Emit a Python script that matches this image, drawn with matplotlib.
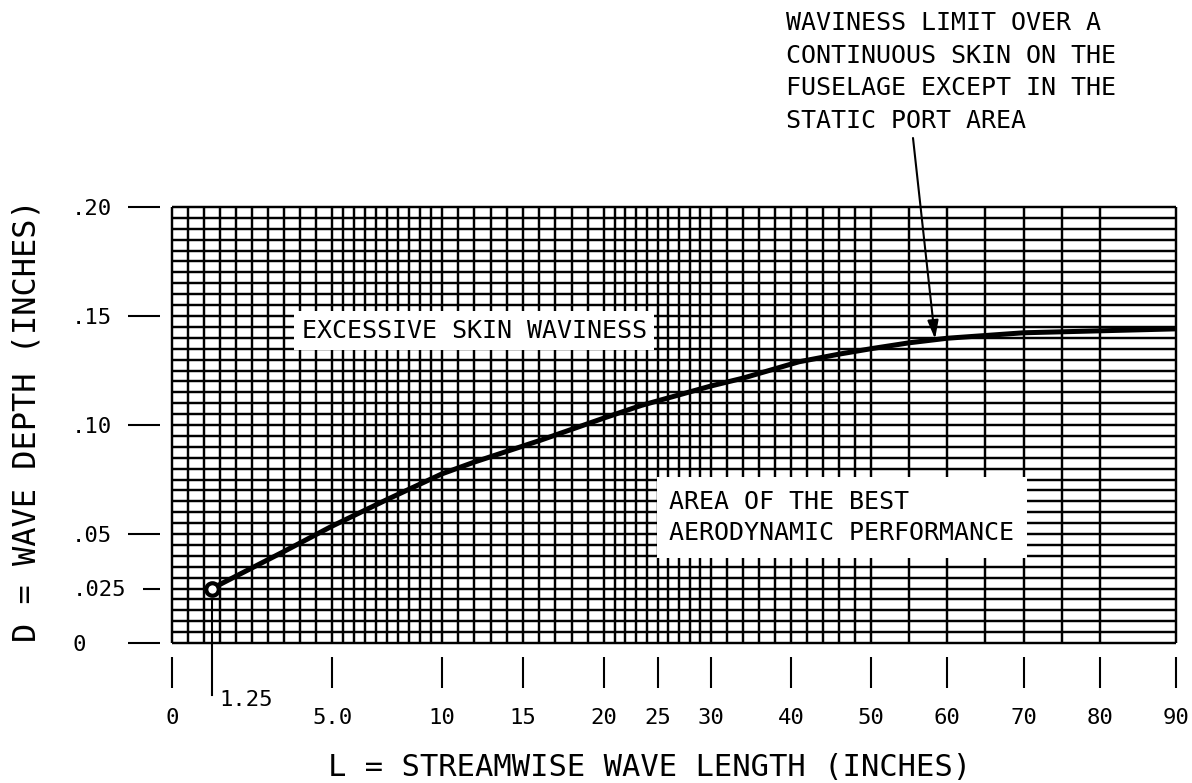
import numpy as np
import matplotlib
matplotlib.use("Agg")
import matplotlib.pyplot as plt

plt.rcParams['font.family'] = ['DejaVu Sans Mono', 'DejaVu Sans']

# ---------------- data ----------------
wave_length = [1.25, 3.5, 5, 7.5, 10, 12, 16, 20, 23.5, 30, 34, 41, 46, 50, 55, 60, 70, 80, 90]
wave_depth = [0.025, 0.042, 0.0536, 0.0658, 0.0776, 0.0830, 0.0928, 0.1032, 0.109, 0.1179,
              0.1215, 0.1290, 0.1325, 0.1350, 0.1377, 0.1398, 0.1423, 0.1432, 0.1441]

x_ticks = [0, 5, 10, 15, 20, 25, 30, 40, 50, 60, 70, 80, 90]
x_tick_labels = ['0', '5.0', '10', '15', '20', '25', '30', '40', '50', '60', '70', '80', '90']
y_ticks = [0, 0.05, 0.10, 0.15, 0.20]
y_tick_labels = ['0', '.05', '.10', '.15', '.20']
y_minor_ticks = [0.025]
y_minor_labels = ['.025']
start_label = '1.25'

# piecewise-linear chart scale of the original drawing
SCALE_L = np.array([0, 5, 10, 20, 30, 50, 90], dtype=float)
SCALE_U = np.array([0, 160, 270, 432, 539, 699, 1004], dtype=float)


def fwd(x):
    return np.interp(np.asarray(x, dtype=float), SCALE_L, SCALE_U)


def inv(u):
    return np.interp(np.asarray(u, dtype=float), SCALE_U, SCALE_L)


grid_x = np.concatenate([np.arange(0, 10, 0.5), np.arange(10, 30, 1),
                         np.arange(30, 50, 2), np.arange(50, 85, 5), [90]])
grid_y = np.linspace(0, 0.2, 41)

W, H = 1192, 783
fig = plt.figure(figsize=(W / 100, H / 100), dpi=100)
ax = fig.add_axes([172 / W, 140 / H, 1004 / W, 436 / H])
ax.set_xscale('function', functions=(fwd, inv))
ax.set_xlim(0, 90)
ax.set_ylim(0, 0.2)

# grid
ax.vlines(grid_x, 0, 0.2, colors='black', linewidth=1.75, clip_on=False, zorder=1)
ax.hlines(grid_y, 0, 90, colors='black', linewidth=1.75, clip_on=False, zorder=1)

# curve
ax.plot(wave_length, wave_depth, color='black', linewidth=3.6, solid_capstyle='butt',
        solid_joinstyle='round', zorder=4)
ax.plot(wave_length[0], wave_depth[0], 'o', ms=9, mfc='white', mec='black', mew=3, zorder=5)

# spines / ticks
for s in ['top', 'right']:
    ax.spines[s].set_visible(False)
ax.spines['bottom'].set_position(('outward', 10))
ax.spines['left'].set_position(('outward', 8.6))
ax.spines['bottom'].set_color('none')
ax.spines['left'].set_color('none')

ax.set_xticks(x_ticks)
ax.set_xticklabels(x_tick_labels)
ax.set_xticks([], minor=True)
ax.tick_params(axis='x', which='major', direction='out', length=22.3, width=1.5,
               color='black', pad=14.5, labelsize=16)

ax.set_yticks(y_ticks)
ax.set_yticklabels(y_tick_labels)
ax.set_yticks(y_minor_ticks, minor=True)
ax.set_yticklabels(y_minor_labels, minor=True)
ax.tick_params(axis='y', which='major', direction='out', length=23, width=1.5,
               color='black', pad=40.3, labelsize=16)
ax.tick_params(axis='y', which='minor', direction='out', length=12.2, width=1.5,
               color='black', pad=51, labelsize=16)
for lab in ax.get_yticklabels() + ax.get_yticklabels(minor=True):
    lab.set_horizontalalignment('left')

# 1.25 marker line and label
xt = ax.get_xaxis_transform()
ax.plot([wave_length[0], wave_length[0]], [(643 - 600) / 436, (643 - 695) / 436],
        transform=xt, color='black', linewidth=1.5, clip_on=False, zorder=3)
ax.annotate(start_label, xy=(wave_length[0], (643 - 700) / 436), xycoords=xt,
            xytext=(7, 0), textcoords='offset pixels', ha='left', va='center',
            fontsize=16, annotation_clip=False)

# axis labels
ax.set_xlabel('L = STREAMWISE WAVE LENGTH (INCHES)', fontsize=22, va='baseline')
ax.xaxis.set_label_coords((650 - 172) / 1004, (643 - 775.5) / 436)
ax.set_ylabel('D = WAVE DEPTH (INCHES)', fontsize=23, va='center')
ax.yaxis.set_label_coords((27 - 172) / 1004, (643 - 421) / 436)

# region labels
ax.text(12.0, 0.1432, 'EXCESSIVE SKIN WAVINESS', ha='center', va='center',
        fontsize=18, bbox=dict(boxstyle='square,pad=0.3', facecolor='white', edgecolor='none'),
        zorder=6)
ax.text(26.1, 0.0575, 'AREA OF THE BEST\nAERODYNAMIC PERFORMANCE', ha='left', va='center',
        fontsize=18, linespacing=1.4,
        bbox=dict(boxstyle='square,pad=0.5', facecolor='white', edgecolor='none'), zorder=6)

# callout
fig.text(786 / W, 1 - 72 / H,
         'WAVINESS LIMIT OVER A\nCONTINUOUS SKIN ON THE\nFUSELAGE EXCEPT IN THE\nSTATIC PORT AREA',
         ha='left', va='center', fontsize=18, linespacing=1.45)
ax.annotate('', xy=(58.4, 0.1395), xycoords='data', xytext=(913, H - 138),
            textcoords='figure pixels',
            arrowprops=dict(arrowstyle='-|>,head_length=1.0,head_width=0.3', mutation_scale=11,
                            color='black', lw=1.5, shrinkA=0, shrinkB=0), zorder=7)

fig.savefig('out.png', dpi=100)
